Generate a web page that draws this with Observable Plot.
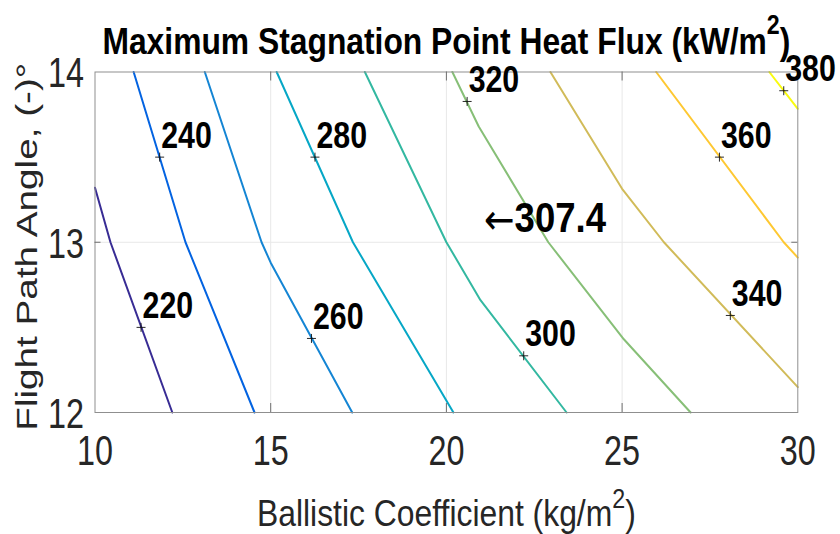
<!DOCTYPE html>
<html><head><meta charset="utf-8">
<script src="https://cdn.jsdelivr.net/npm/d3@7"></script>
<script src="https://cdn.jsdelivr.net/npm/@observablehq/plot@0.6"></script>
<style>
html,body{margin:0;padding:0;background:#fff;overflow:hidden}
</style></head><body><div id="chart"></div>
<script>
// ---- data ----
const levels = [220, 240, 260, 280, 300, 320, 340, 360, 380];
const levelColors = ["#382c94", "#0363e1", "#1485d4", "#06a7c6", "#33b8a1", "#87bf77", "#d1bb59", "#fec832", "#f9fb0e"];
const contour220 = [[10, 13.32], [10.44, 13.0], [12.20, 12.0]];
const contour240 = [[11.10, 14], [12.575, 13.0], [14.54, 12.0]];
const contour260 = [[13.125, 14], [14.74, 13.0], [15.0, 12.88], [17.32, 12.0]];
const contour280 = [[15.17, 14], [17.34, 13.0], [20.2, 12.0]];
const contour300 = [[17.68, 14], [20.0, 13.0], [20.97, 12.66], [23.42, 12.0]];
const contour320 = [[20.17, 14], [20.92, 13.68], [22.9, 13.0], [25.05, 12.43], [26.95, 12.0]];
const contour340 = [[22.96, 14], [25.0, 13.314], [26.19, 13.0], [30, 12.149]];
const contour360 = [[25.97, 14], [29.6, 13.0], [30, 12.91]];
const contour380 = [[29.19, 14], [30, 13.784]];
const labelX = [11.31, 11.84, 16.16, 16.26, 22.20, 20.59, 28.08, 27.77, 29.60];
const labelY = [12.50, 13.50, 12.435, 13.50, 12.333, 13.827, 12.57, 13.50, 13.89];
const annotationX = [21.07];
const annotationY = [13.14];
const annotationText = ["\u2190307.4"];
const xTickLabels = [10, 15, 20, 25, 30];
const yTickLabels = [12, 13, 14];
const innerXTicks = [15, 20, 25];
const innerYTicks = [13];
const titleText = "Maximum Stagnation Point Heat Flux (kW/m\u00b2)";
const xLabelText = "Ballistic Coefficient (kg/m\u00b2)";
const yLabelText = "Flight Path Angle, (-)\u00b0";

// ---- tables ----
const contours = [contour220, contour240, contour260, contour280, contour300, contour320, contour340, contour360, contour380];
const lineTable = contours.flatMap((pts, i) => pts.map(([x, y]) => ({level: levels[i], x, y})));
const labelTable = levels.map((l, i) => ({level: l, x: labelX[i], y: labelY[i]}));
const annTable = annotationText.map((t, i) => ({x: annotationX[i], y: annotationY[i], text: t}));

const FONT = "'Liberation Sans', Arial, Helvetica, sans-serif";
const W = 840, H = 534, ML = 94.5, MR = 42.7, MT = 71.5, MB = 122;
const FW = W - ML - MR, FH = H - MT - MB;
const tag = (name) => ({ariaDescription: name});

const svg = Plot.plot({
  width: W, height: H,
  marginLeft: ML, marginRight: MR, marginTop: MT, marginBottom: MB,
  style: {background: "white", fontFamily: FONT, overflow: "visible"},
  x: {domain: [10, 30], axis: null},
  y: {domain: [12, 14], axis: null},
  color: {type: "ordinal", domain: levels, range: levelColors},
  marks: [
    Plot.ruleX(innerXTicks, {x: d => d, stroke: "#e8e8e8", strokeWidth: 1}),
    Plot.ruleY(innerYTicks, {y: d => d, stroke: "#e8e8e8", strokeWidth: 1}),
    Plot.line(lineTable, {x: "x", y: "y", z: "level", stroke: "level", strokeWidth: 2, strokeLinejoin: "round"}),
    Plot.frame({stroke: "#8f8f8f", strokeWidth: 1}),
    Plot.tickX(innerXTicks, {x: d => d, insetTop: FH - 9, stroke: "#6f6f6f"}),
    Plot.tickX(innerXTicks, {x: d => d, insetBottom: FH - 9, stroke: "#6f6f6f"}),
    Plot.tickY(innerYTicks, {y: d => d, insetRight: FW - 6, stroke: "#6f6f6f"}),
    Plot.tickY(innerYTicks, {y: d => d, insetLeft: FW - 6, stroke: "#6f6f6f"}),
    Plot.dot(labelTable, {x: "x", y: "y", symbol: "plus", r: 3, stroke: "#111", strokeWidth: 0.9}),
    Plot.text(labelTable, {x: "x", y: "y", text: d => String(d.level), textAnchor: "start", lineAnchor: "bottom",
      dx: 1.5, dy: -9.5, fontSize: 37, fontWeight: "bold", fill: "black", ...tag("contour label")}),
    Plot.text(annTable, {x: "x", y: "y", text: "text", textAnchor: "start", lineAnchor: "middle",
      fontSize: 42, fontWeight: "bold", fill: "black", ...tag("annotation")}),
    Plot.text(xTickLabels, {x: d => d, text: d => String(d), frameAnchor: "bottom", textAnchor: "middle", lineAnchor: "top", dy: 23,
      fontSize: 42, fill: "#262626", ...tag("x tick label")}),
    Plot.text(yTickLabels, {y: d => d, text: d => String(d), frameAnchor: "left", textAnchor: "end", dx: -11, dy: 2,
      fontSize: 42, fill: "#262626", ...tag("y tick label")}),
    Plot.text([titleText], {text: d => d, frameAnchor: "top", textAnchor: "middle", lineAnchor: "bottom", dy: -18.2,
      fontSize: 37, fontWeight: "bold", fill: "black", ...tag("title")}),
    Plot.text([xLabelText], {text: d => d, frameAnchor: "bottom", textAnchor: "middle", lineAnchor: "bottom", dy: 113,
      fontSize: 37, fill: "#262626", ...tag("x label")}),
    Plot.text([yLabelText], {text: d => d, frameAnchor: "left", textAnchor: "middle", lineAnchor: "bottom", rotate: -90, dx: -57.8, dy: 4.5,
      fontSize: 30.3, fill: "#262626", ...tag("y label")})
  ]
});
document.getElementById("chart").appendChild(svg);

function texts(label) {
  return Array.from(svg.querySelectorAll(`g[aria-description="${label}"] text`));
}
const NS = "http://www.w3.org/2000/svg";
function tspan(text, attrs) {
  const s = document.createElementNS(NS, "tspan");
  for (const k in attrs) s.setAttribute(k, attrs[k]);
  s.textContent = text;
  return s;
}
function withSuperscript(label, base, sup, supSize, raise, tail) {
  texts(label).forEach(t => {
    t.textContent = base;
    t.appendChild(tspan(sup, {"font-size": supSize, dy: -raise}));
    t.appendChild(tspan(tail, {dy: raise}));
  });
}
withSuperscript("title", "Maximum Stagnation Point Heat Flux (kW/m", "2", 27, 20, ")");
withSuperscript("x label", "Ballistic Coefficient (kg/m", "2", 27, 18, ")");
texts("annotation").forEach(t => {
  t.textContent = "";
  t.appendChild(tspan("\u2190", {"font-weight": "normal", "font-family": "'DejaVu Sans', sans-serif", dy: 2}));
  t.appendChild(tspan("307.4", {dy: -2}));
});
function condense(label, factor, target) {
  texts(label).forEach(t => {
    const k = target ? target / t.getComputedTextLength() : factor;
    const x = +(t.getAttribute("x") || 0);
    const tr = t.getAttribute("transform") || "";
    t.setAttribute("transform", `${tr} translate(${x},0) scale(${k},1) translate(${-x},0)`);
  });
}
condense("title", null, 688);
condense("x label", null, 379);
condense("y label", null, 368);
condense("x tick label", 0.77);
condense("y tick label", 0.77);
condense("contour label", 0.82);
condense("annotation", null, 122);
</script></body></html>
